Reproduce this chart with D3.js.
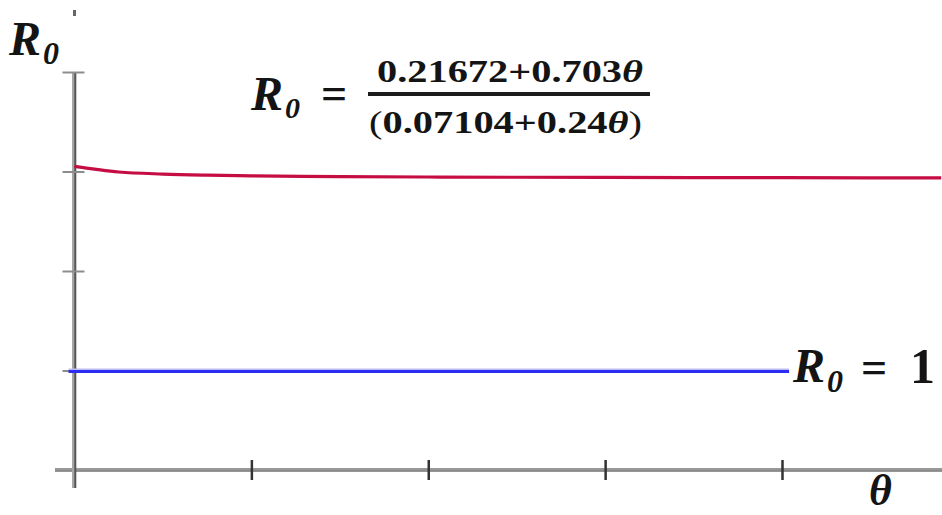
<!DOCTYPE html>
<html>
<head>
<meta charset="utf-8">
<script src="https://cdn.jsdelivr.net/npm/d3@7/dist/d3.min.js"></script>
<style>
  html, body { margin: 0; padding: 0; background: #fff; }
  svg { display: block; }
  text { font-family: "Liberation Serif", "Times New Roman", serif; fill: #141414; }
</style>
</head>
<body>
<svg id="chart" width="942" height="515"></svg>
<script>
// Basic reproduction number R0 as a function of theta
const thetaValues = [0, 0.25, 0.5, 0.75, 1, 1.5, 2, 2.5, 3, 3.5, 4, 4.5, 4.9];
const r0Values    = [3.0507, 2.9950, 2.9744, 2.9636, 2.9569, 2.9492, 2.9448,
                     2.9420, 2.9401, 2.9386, 2.9375, 2.9367, 2.9361];

// Threshold R0 = 1, drawn from theta = 0 up to thresholdEnd
const thresholdValue = 1;
const thresholdEnd = 4.04;

// Unlabelled tick positions on both axes
const xTickValues = [1, 2, 3, 4];
const yTickValues = [1, 2, 3, 4];

const svg = d3.select("#chart");

const x = d3.scaleLinear().domain([0, 4]).range([74.5, 782]);
const y = d3.scaleLinear().domain([0, 4]).range([470, 72]);

// Axes
const axisG = svg.append("g");

// x axis line
axisG.append("line")
  .attr("x1", 55).attr("x2", 942)
  .attr("y1", y(0)).attr("y2", y(0))
  .attr("stroke", "#9a9a9a").attr("stroke-width", 4);
axisG.append("line")
  .attr("x1", 55).attr("x2", 942)
  .attr("y1", y(0) + 0.5).attr("y2", y(0) + 0.5)
  .attr("stroke", "#8a8a8a").attr("stroke-width", 1.5);

// y axis line
axisG.append("line")
  .attr("x1", x(0) - 1).attr("x2", x(0) - 1)
  .attr("y1", 72).attr("y2", 488)
  .attr("stroke", "#a6a6a6").attr("stroke-width", 3);
axisG.append("line")
  .attr("x1", x(0) + 0.8).attr("x2", x(0) + 0.8)
  .attr("y1", 72).attr("y2", 488)
  .attr("stroke", "#555").attr("stroke-width", 2);

// small mark above the y axis
axisG.append("line")
  .attr("x1", x(0)).attr("x2", x(0))
  .attr("y1", 10).attr("y2", 16)
  .attr("stroke", "#666").attr("stroke-width", 3);

// x ticks through d3.axisBottom
const xAxis = d3.axisBottom(x).tickValues(xTickValues).tickSize(20).tickFormat("");
const xg = svg.append("g").attr("transform", `translate(0,${y(0) - 10})`).call(xAxis);
xg.select(".domain").remove();
xg.selectAll(".tick line").attr("stroke", "#333").attr("stroke-width", 2.5);

// y ticks through d3.axisLeft
const yAxis = d3.axisLeft(y).tickValues(yTickValues).tickSize(22).tickFormat("");
const yg = svg.append("g").attr("transform", `translate(${x(0) + 10},0)`).call(yAxis);
yg.select(".domain").remove();
yg.selectAll(".tick line").attr("stroke", "#8c8c8c").attr("stroke-width", 2);

// threshold line R0 = 1
svg.append("line")
  .attr("x1", x(0) - 6).attr("x2", x(thresholdEnd))
  .attr("y1", y(thresholdValue) - 1).attr("y2", y(thresholdValue) - 1)
  .attr("stroke", "#bcbcf4").attr("stroke-width", 2);
svg.append("line")
  .attr("x1", x(0) - 6).attr("x2", x(thresholdEnd))
  .attr("y1", y(thresholdValue) + 1).attr("y2", y(thresholdValue) + 1)
  .attr("stroke", "#2c2cf2").attr("stroke-width", 3);

// R0(theta) curve
const pts = thetaValues.map((t, i) => [t, r0Values[i]]);
const line = d3.line().x(d => x(d[0])).y(d => y(d[1])).curve(d3.curveMonotoneX);
svg.append("path")
  .datum(pts)
  .attr("d", line)
  .attr("fill", "none")
  .attr("stroke", "#c50d43")
  .attr("stroke-width", 3.2);

// Labels
function rSub(g, xR, baseR, sizeR, xSub, baseSub, sizeSub) {
  g.append("text").attr("x", xR).attr("y", baseR)
    .attr("font-size", sizeR).attr("font-weight", "bold").attr("font-style", "italic")
    .text("R");
  g.append("text").attr("x", xSub).attr("y", baseSub)
    .attr("font-size", sizeSub).attr("font-weight", "bold").attr("font-style", "italic")
    .text("0");
}

const lab = svg.append("g");

// y axis title
rSub(lab, 9, 55, 48, 43, 64, 32);

// formula
rSub(lab, 251, 110, 48, 285, 118, 30);
lab.append("text").attr("x", 321).attr("y", 109)
  .attr("font-size", 46).attr("font-weight", "bold").text("=");

const num = lab.append("text").attr("x", 377).attr("y", 82)
  .attr("font-size", 32).attr("font-weight", "bold")
  .attr("textLength", 266).attr("lengthAdjust", "spacingAndGlyphs");
num.append("tspan").text("0.21672+0.703");
num.append("tspan").attr("font-style", "italic").text("θ");

lab.append("rect").attr("x", 368).attr("y", 92).attr("width", 282).attr("height", 4)
  .attr("fill", "#1c1c1c");

const den = lab.append("text").attr("x", 369).attr("y", 133)
  .attr("font-size", 32).attr("font-weight", "bold")
  .attr("textLength", 273).attr("lengthAdjust", "spacingAndGlyphs");
den.append("tspan").attr("font-weight", "normal").text("(");
den.append("tspan").text("0.07104+0.24");
den.append("tspan").attr("font-style", "italic").text("θ");
den.append("tspan").attr("font-weight", "normal").text(")");

// threshold label
rSub(lab, 793, 382, 48, 827, 392, 32);
lab.append("text").attr("x", 861).attr("y", 383)
  .attr("font-size", 46).attr("font-weight", "bold").text("=");
lab.append("text").attr("x", 910).attr("y", 383)
  .attr("font-size", 50).attr("font-weight", "bold").text("1");

// x axis title
lab.append("text").attr("x", 869).attr("y", 505)
  .attr("font-size", 44).attr("font-weight", "bold").attr("font-style", "italic")
  .text("θ");
</script>
</body>
</html>
